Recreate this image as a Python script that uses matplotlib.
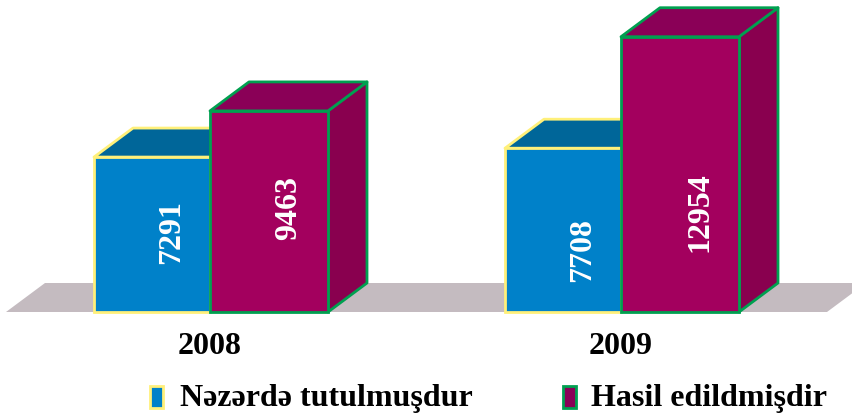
import matplotlib
matplotlib.use("Agg")
import matplotlib.pyplot as plt
from matplotlib.patches import Polygon, Rectangle

# data
years = ["2008", "2009"]
series = ["Nəzərdə tutulmuşdur", "Hasil edildmişdir"]
planned = [7291, 7708]
produced = [9463, 12954]
label_y = [[3760, 4890], [2920, 4710]]   # where the value text sits on each bar

# colours: front, top, side, edge
cols = [("#0081c9", "#006699", "#005f8f", "#fff07a"),
        ("#a3005e", "#8a0057", "#89004f", "#00a050")]
floor_col = "#c4bbc0"

k = 0.02125          # pixels per unit
W, H = 853, 419
base = 312           # pixel row of the floor front edge
ddx, ddy = 39, 29 / k  # depth offset (x in px, y in units)

fig = plt.figure(figsize=(W / 100, H / 100), dpi=100)
ax = fig.add_axes([0, 0, 1, 1])
ax.set_xlim(0, W)
ax.set_ylim(-(H - base) / k, base / k)
ax.axis("off")

# floor
ax.add_patch(Polygon([(6, 0), (827, 0), (827 + ddx, ddy), (6 + ddx, ddy)],
                     closed=True, fc=floor_col, ec="none"))

centers = [210, 621]
bw = [116, 118]
font = "Liberation Serif"

def box(x0, w, h, c):
    front, top, side, edge = c
    ax.add_patch(Polygon([(x0 + w, 0), (x0 + w + ddx, ddy), (x0 + w + ddx, h + ddy), (x0 + w, h)],
                         closed=True, fc=side, ec=edge, lw=2, joinstyle="round"))
    ax.add_patch(Polygon([(x0, h), (x0 + ddx, h + ddy), (x0 + w + ddx, h + ddy), (x0 + w, h)],
                         closed=True, fc=top, ec=edge, lw=2, joinstyle="round"))
    ax.add_patch(Rectangle((x0, 0), w, h, fc=front, ec=edge, lw=2))

for i, cx in enumerate(centers):
    vals = [planned[i], produced[i]]
    xs = [cx - bw[0], cx]
    for j in range(2):
        box(xs[j], bw[j], vals[j], cols[j])
        ax.text(xs[j] + bw[j] / 2 + 20, label_y[i][j], str(vals[j]), rotation=90,
                ha="center", va="center", color="white", fontsize=23,
                fontweight="bold", family=font)
    ax.text(cx, -(346 - base) / k, years[i], ha="center", va="center",
            fontsize=23, fontweight="bold", family=font)

# legend
leg_x = [150, 563]
txt_x = [180, 591]
for j in range(2):
    fig.patches.append(Rectangle((leg_x[j] / W, 1 - 408 / H), 13 / W, 22 / H,
                                 transform=fig.transFigure,
                                 fc=cols[j][0] if j == 0 else cols[j][1],
                                 ec=cols[j][3], lw=2))
    fig.text(txt_x[j] / W, 1 - 398 / H, series[j], ha="left", va="center",
             fontsize=23, fontweight="bold", family=font)

fig.savefig("out.png", dpi=100)
